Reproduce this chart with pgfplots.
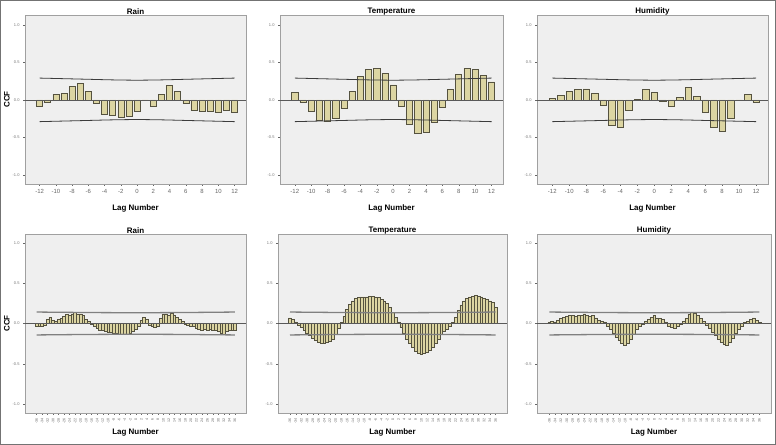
\documentclass[border=0pt]{standalone}
\usepackage{pgfplots}
\pgfplotsset{compat=1.18}
\usepackage{pgfplotstable}
\usepackage{fontspec}
\setmainfont{Liberation Sans}

\definecolor{barfill}{HTML}{DCD5A2}
\definecolor{baredge}{HTML}{55523F}
\definecolor{panelbg}{HTML}{EFEFEF}
\definecolor{framegray}{HTML}{A0A0A0}
\definecolor{boundgray}{HTML}{3C3C3C}

% ---- lags -12..12 ----
\pgfplotstableread[row sep=\\]{
lag ccf\\
-12 -0.09\\ -11 -0.035\\ -10 0.075\\ -9 0.084\\ -8 0.18\\ -7 0.22\\ -6 0.11\\
-5 -0.05\\ -4 -0.19\\ -3 -0.21\\ -2 -0.23\\ -1 -0.22\\ 0 -0.15\\ 1 -0.005\\
2 -0.09\\ 3 0.075\\ 4 0.19\\ 5 0.11\\ 6 -0.05\\ 7 -0.14\\ 8 -0.155\\
9 -0.155\\ 10 -0.17\\ 11 -0.14\\ 12 -0.17\\
}\rainA
\pgfplotstableread[row sep=\\]{
lag ccf\\
-12 0.095\\ -11 -0.03\\ -10 -0.15\\ -9 -0.27\\ -8 -0.29\\ -7 -0.24\\ -6 -0.11\\
-5 0.11\\ -4 0.31\\ -3 0.405\\ -2 0.42\\ -1 0.35\\ 0 0.20\\ 1 -0.085\\
2 -0.33\\ 3 -0.445\\ 4 -0.43\\ 5 -0.30\\ 6 -0.095\\ 7 0.135\\ 8 0.34\\
9 0.42\\ 10 0.41\\ 11 0.33\\ 12 0.24\\
}\tempA
\pgfplotstableread[row sep=\\]{
lag ccf\\
-12 0.02\\ -11 0.063\\ -10 0.11\\ -9 0.14\\ -8 0.145\\ -7 0.085\\ -6 -0.075\\
-5 -0.34\\ -4 -0.36\\ -3 -0.135\\ -2 0.004\\ -1 0.135\\ 0 0.095\\ 1 -0.02\\
2 -0.085\\ 3 0.03\\ 4 0.165\\ 5 0.05\\ 6 -0.17\\ 7 -0.37\\ 8 -0.42\\
9 -0.25\\ 10 0.0\\ 11 0.07\\ 12 -0.035\\
}\humA

% ---- lags -36..36 ----
\pgfplotstableread[row sep=\\]{
lag ccf\\
-36 -0.03\\ -35 -0.04\\ -34 -0.03\\ -33 -0.02\\ -32 0.05\\ -31 0.08\\ -30 0.04\\ -29 0.03\\
-28 0.05\\ -27 0.06\\ -26 0.09\\ -25 0.11\\ -24 0.10\\ -23 0.12\\ -22 0.14\\ -21 0.11\\
-20 0.12\\ -19 0.10\\ -18 0.05\\ -17 0.03\\ -16 -0.01\\ -15 -0.04\\ -14 -0.06\\ -13 -0.08\\
-12 -0.09\\ -11 -0.10\\ -10 -0.11\\ -9 -0.11\\ -8 -0.12\\ -7 -0.12\\ -6 -0.13\\ -5 -0.14\\
-4 -0.14\\ -3 -0.13\\ -2 -0.12\\ -1 -0.10\\ 0 -0.07\\ 1 -0.03\\ 2 0.04\\ 3 0.08\\
4 0.05\\ 5 -0.02\\ 6 -0.03\\ 7 -0.05\\ 8 -0.03\\ 9 0.06\\ 10 0.11\\ 11 0.12\\
12 0.10\\ 13 0.13\\ 14 0.10\\ 15 0.08\\ 16 0.05\\ 17 0.03\\ 18 -0.01\\ 19 -0.02\\
20 -0.03\\ 21 -0.04\\ 22 -0.06\\ 23 -0.07\\ 24 -0.08\\ 25 -0.07\\ 26 -0.08\\ 27 -0.07\\
28 -0.08\\ 29 -0.09\\ 30 -0.10\\ 31 -0.12\\ 32 -0.13\\ 33 -0.10\\ 34 -0.09\\ 35 -0.08\\
36 -0.09\\
}\rainB
\pgfplotstableread[row sep=\\]{
lag ccf\\
-36 0.07\\ -35 0.05\\ -34 0.02\\ -33 -0.02\\ -32 -0.05\\ -31 -0.08\\ -30 -0.12\\ -29 -0.15\\
-28 -0.18\\ -27 -0.21\\ -26 -0.23\\ -25 -0.24\\ -24 -0.24\\ -23 -0.23\\ -22 -0.22\\ -21 -0.19\\
-20 -0.13\\ -19 -0.06\\ -18 0.01\\ -17 0.09\\ -16 0.17\\ -15 0.24\\ -14 0.28\\ -13 0.31\\
-12 0.32\\ -11 0.33\\ -10 0.33\\ -9 0.33\\ -8 0.34\\ -7 0.34\\ -6 0.33\\ -5 0.32\\
-4 0.30\\ -3 0.28\\ -2 0.25\\ -1 0.20\\ 0 0.14\\ 1 0.08\\ 2 0.02\\ 3 -0.05\\
4 -0.12\\ 5 -0.19\\ 6 -0.25\\ 7 -0.30\\ 8 -0.34\\ 9 -0.37\\ 10 -0.38\\ 11 -0.37\\
12 -0.36\\ 13 -0.33\\ 14 -0.29\\ 15 -0.24\\ 16 -0.19\\ 17 -0.14\\ 18 -0.10\\ 19 -0.07\\
20 -0.04\\ 21 0.01\\ 22 0.08\\ 23 0.16\\ 24 0.23\\ 25 0.28\\ 26 0.31\\ 27 0.33\\
28 0.34\\ 29 0.35\\ 30 0.34\\ 31 0.33\\ 32 0.31\\ 33 0.30\\ 34 0.28\\ 35 0.26\\
36 0.20\\
}\tempB
\pgfplotstableread[row sep=\\]{
lag ccf\\
-36 0.02\\ -35 0.03\\ -34 0.02\\ -33 0.04\\ -32 0.06\\ -31 0.08\\ -30 0.09\\ -29 0.10\\
-28 0.10\\ -27 0.09\\ -26 0.10\\ -25 0.10\\ -24 0.12\\ -23 0.10\\ -22 0.09\\ -21 0.10\\
-20 0.07\\ -19 0.04\\ -18 0.03\\ -17 0.02\\ -16 -0.03\\ -15 -0.07\\ -14 -0.12\\ -13 -0.17\\
-12 -0.21\\ -11 -0.25\\ -10 -0.27\\ -9 -0.24\\ -8 -0.19\\ -7 -0.13\\ -6 -0.07\\ -5 -0.03\\
-4 -0.01\\ -3 0.03\\ -2 0.05\\ -1 0.08\\ 0 0.10\\ 1 0.07\\ 2 0.06\\ 3 0.05\\
4 0.02\\ 5 -0.03\\ 6 -0.05\\ 7 -0.06\\ 8 -0.04\\ 9 -0.01\\ 10 0.03\\ 11 0.06\\
12 0.11\\ 13 0.14\\ 14 0.13\\ 15 0.10\\ 16 0.06\\ 17 0.03\\ 18 -0.02\\ 19 -0.06\\
20 -0.11\\ 21 -0.15\\ 22 -0.19\\ 23 -0.23\\ 24 -0.26\\ 25 -0.27\\ 26 -0.23\\ 27 -0.18\\
28 -0.12\\ 29 -0.07\\ 30 -0.03\\ 31 0.01\\ 32 0.03\\ 33 0.05\\ 34 0.07\\ 35 0.04\\
36 0.01\\
}\humB

% confidence limits
\pgfplotstableread[row sep=\\]{
lag up lo\\
-12 0.29 -0.29\\ -9 0.282 -0.282\\ -6 0.274 -0.274\\ -3 0.266 -0.266\\ 0 0.262 -0.262\\
3 0.266 -0.266\\ 6 0.274 -0.274\\ 9 0.282 -0.282\\ 12 0.29 -0.29\\
}\limA
\pgfplotstableread[row sep=\\]{
lag up lo\\
-36 0.142 -0.142\\ -18 0.136 -0.136\\ 0 0.133 -0.133\\ 18 0.136 -0.136\\ 36 0.142 -0.142\\
}\limB

\pgfplotsset{
  ccf/.style={
    scale only axis,
    axis background/.style={fill=panelbg},
    axis line style={framegray, line width=0.9bp},
    ytick={-1,-0.5,0,0.5,1},
    yticklabels={-1.0,-0.5,0.0,0.5,1.0},
    yticklabel style={font=\fontsize{4}{4}\selectfont, text=black!55},
    xticklabel style={text=black!60},
    /pgf/number format/assume math mode=true,
    tick align=outside, major tick length=2bp,
    tick style={black!60, line width=0.4bp},
    xtick pos=bottom, ytick pos=left,
    title style={font=\bfseries\fontsize{8}{9}\selectfont, inner sep=1bp, yshift=-7bp},
    xlabel={Lag Number},
    xlabel style={font=\bfseries\fontsize{8}{9}\selectfont, at={(axis description cs:0.5,0)}, anchor=center},
  },
  rowA/.style={ccf, height=169bp, xmin=-13.8, xmax=13.4, ymin=-1.12, ymax=1.13,
    xtick={-12,-10,...,12}, xticklabel style={font=\fontsize{6}{6}\selectfont},
    xlabel style={yshift=-24bp}},
  rowB/.style={ccf, height=179bp, xmin=-40.2, xmax=40, ymin=-1.11, ymax=1.11,
    xtick={-36,-34,...,36},
    xticklabel style={font=\fontsize{3.6}{4}\selectfont, rotate=90, anchor=east},
    xlabel style={yshift=-19bp}},
  ccflabel/.style={ylabel={CCF},
    ylabel style={font=\bfseries\fontsize{8}{9}\selectfont, at={(axis description cs:0,0.5)}, anchor=center, yshift=18bp}},
  barsA/.style={ybar, bar width=0.74, bar shift=0pt, fill=barfill, draw=baredge, line width=0.55bp},
  barsB/.style={ybar, bar width=1, bar shift=0pt, fill=barfill, draw=baredge, line width=0.6bp},
  limsA/.style={no marks, smooth, boundgray, line width=0.8bp},
  limsB/.style={no marks, black!50, line width=1.3bp},
}

\newcommand{\zeroline}{\draw[black!65, line width=0.7bp]
  (axis cs:\pgfkeysvalueof{/pgfplots/xmin},0) -- (axis cs:\pgfkeysvalueof{/pgfplots/xmax},0);}

\begin{document}
\begin{tikzpicture}[x=1bp,y=1bp]
\useasboundingbox (0,0) rectangle (776,445);
\draw[black!55, line width=1.2bp] (0.6,0.6) rectangle (775.4,444.4);

% ---------------- top row ----------------
\begin{axis}[rowA, ccflabel, at={(25bp,261bp)}, width=221bp, title={Rain}]
  \addplot[barsA] table[x=lag, y=ccf] {\rainA};
  \zeroline
  \addplot[limsA] table[x=lag, y=up] {\limA};
  \addplot[limsA] table[x=lag, y=lo] {\limA};
\end{axis}
\begin{axis}[rowA, at={(280bp,261bp)}, width=223bp, title={Temperature}]
  \addplot[barsA] table[x=lag, y=ccf] {\tempA};
  \zeroline
  \addplot[limsA] table[x=lag, y=up] {\limA};
  \addplot[limsA] table[x=lag, y=lo] {\limA};
\end{axis}
\begin{axis}[rowA, at={(537bp,261bp)}, width=231bp, title={Humidity}]
  \addplot[barsA] table[x=lag, y=ccf] {\humA};
  \zeroline
  \addplot[limsA] table[x=lag, y=up] {\limA};
  \addplot[limsA] table[x=lag, y=lo] {\limA};
\end{axis}

% ---------------- bottom row ----------------
\begin{axis}[rowB, ccflabel, at={(25bp,32bp)}, width=221bp, title={Rain}]
  \addplot[barsB] table[x=lag, y=ccf] {\rainB};
  \zeroline
  \addplot[limsB] table[x=lag, y=up] {\limB};
  \addplot[limsB] table[x=lag, y=lo] {\limB};
\end{axis}
\begin{axis}[rowB, at={(278bp,32bp)}, width=229bp, title={Temperature}]
  \addplot[barsB] table[x=lag, y=ccf] {\tempB};
  \zeroline
  \addplot[limsB] table[x=lag, y=up] {\limB};
  \addplot[limsB] table[x=lag, y=lo] {\limB};
\end{axis}
\begin{axis}[rowB, at={(537bp,32bp)}, width=234bp, title={Humidity}]
  \addplot[barsB] table[x=lag, y=ccf] {\humB};
  \zeroline
  \addplot[limsB] table[x=lag, y=up] {\limB};
  \addplot[limsB] table[x=lag, y=lo] {\limB};
\end{axis}
\end{tikzpicture}
\end{document}
